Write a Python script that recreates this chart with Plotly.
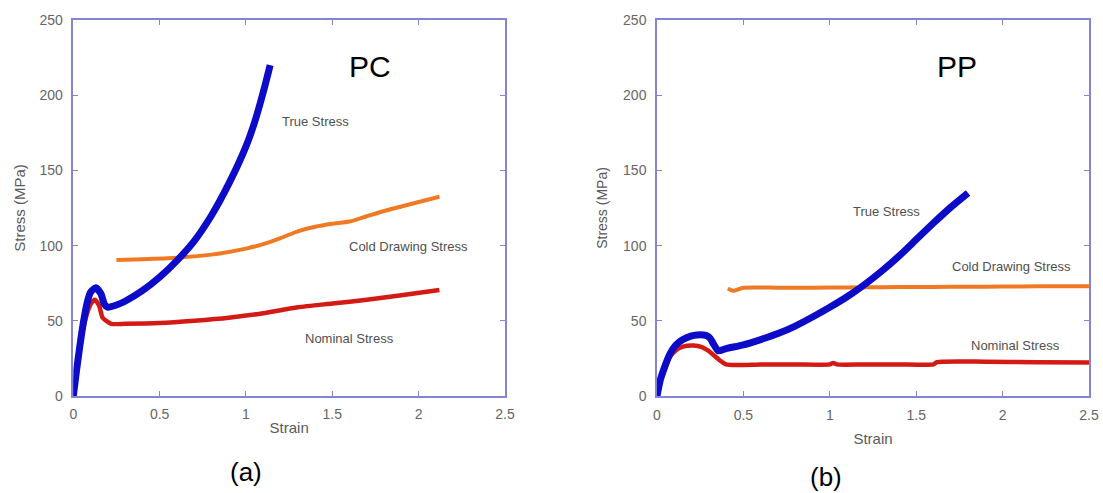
import plotly.graph_objects as go

# ---- PC (a) ----
pc_true_strain = [0, 0.02, 0.04, 0.06, 0.08, 0.10, 0.13, 0.16, 0.18, 0.20, 0.25, 0.30, 0.40, 0.50, 0.60, 0.70, 0.80, 0.90, 1.00, 1.05, 1.10, 1.14]
pc_true_stress = [0, 18, 35, 50, 62, 69, 72, 68, 61, 59, 60.5, 63, 70, 79, 90, 103, 120, 141, 166, 182, 202, 220]

pc_nom_strain = [0, 0.02, 0.04, 0.06, 0.08, 0.10, 0.125, 0.15, 0.17, 0.22, 0.30, 0.50, 0.70, 0.90, 1.10, 1.30, 1.50, 1.70, 1.90, 2.12]
pc_nom_stress = [0, 17, 33, 46, 55, 61, 64, 60, 52, 48, 48, 48.5, 50, 52, 55, 59, 61.5, 64, 67, 70.5]

pc_cold_strain = [0.25, 0.40, 0.60, 0.80, 1.00, 1.10, 1.20, 1.30, 1.40, 1.50, 1.60, 1.70, 1.80, 1.90, 2.00, 2.12]
pc_cold_stress = [90.5, 91, 92, 94, 98, 101, 105, 109.5, 112.5, 114.5, 116, 119.5, 123, 126, 129, 132.5]

# ---- PP (b) ----
pp_true_strain = [0, 0.02, 0.04, 0.075, 0.11, 0.15, 0.20, 0.23, 0.27, 0.29, 0.31, 0.33, 0.355, 0.40, 0.50, 0.60, 0.70, 0.80, 0.90, 1.00, 1.10, 1.20, 1.30, 1.40, 1.50, 1.60, 1.70, 1.80]
pp_true_stress = [0, 11, 18, 28, 34, 37.5, 40, 40.6, 40.6, 40, 38, 34, 30, 31.5, 34, 37.5, 41.5, 46.5, 52.5, 59, 66, 74, 83, 93, 104, 115, 125.5, 135]

pp_nom_strain = [0, 0.02, 0.04, 0.075, 0.11, 0.15, 0.21, 0.26, 0.29, 0.32, 0.35, 0.40, 0.60, 0.80, 1.00, 1.02, 1.04, 1.20, 1.40, 1.60, 1.62, 1.90, 2.20, 2.50]
pp_nom_stress = [0, 10, 16, 26, 30.5, 32.8, 33.5, 32.5, 30.6, 28, 25, 21, 21, 21, 21, 22, 21, 21, 21, 21, 22.5, 22.8, 22.5, 22.2]

pp_cold_strain = [0.41, 0.44, 0.50, 0.70, 0.90, 1.10, 1.30, 1.50, 1.70, 1.90, 2.10, 2.30, 2.50]
pp_cold_stress = [71.5, 70, 72, 72, 72, 72.2, 72.3, 72.5, 72.6, 72.7, 72.8, 73, 73]

x_ticks = [0, 0.5, 1, 1.5, 2, 2.5]
x_tick_text = ["0", "0.5", "1", "1.5", "2", "2.5"]
y_ticks = [0, 50, 100, 150, 200, 250]

BLUE = "#0c0cc8"
RED = "#d41a14"
ORANGE = "#f07a24"
FRAME = "#8484d4"
GRAY = "#5a5a5a"

fig = go.Figure()

def add(xs, ys, color, width, xa, ya):
    fig.add_trace(go.Scatter(x=xs, y=ys, mode="lines", line=dict(color=color, width=width, shape="spline", smoothing=0.6),
                             xaxis=xa, yaxis=ya, showlegend=False, hoverinfo="skip"))

add(pc_cold_strain, pc_cold_stress, ORANGE, 4, "x", "y")
add(pc_nom_strain, pc_nom_stress, RED, 4.5, "x", "y")
add(pc_true_strain, pc_true_stress, BLUE, 7, "x", "y")
add(pp_cold_strain, pp_cold_stress, ORANGE, 4, "x2", "y2")
add(pp_nom_strain, pp_nom_stress, RED, 4.5, "x2", "y2")
add(pp_true_strain, pp_true_stress, BLUE, 7, "x2", "y2")

W, H = 1103, 493
def px(v):
    return v / W
def py(v):
    return 1 - v / H

ax_common = dict(
    showgrid=False, zeroline=False, showline=True, linecolor=FRAME, linewidth=1.5,
    mirror="allticks", ticks="inside", ticklen=5, tickcolor=FRAME, tickwidth=1.2,
    tickfont=dict(family="Liberation Sans, Arial", size=14, color="#666666"),
    automargin=False,
)

fig.update_layout(
    width=W, height=H, margin=dict(l=0, r=0, t=0, b=0),
    paper_bgcolor="white", plot_bgcolor="white", template="none",
    xaxis=dict(domain=[px(73.3), px(505)], range=[0, 2.5], anchor="y", tickvals=x_ticks, ticktext=x_tick_text,
               title=dict(text="Strain", standoff=2, font=dict(family="Liberation Sans, Arial", size=15, color=GRAY)),
               ticklabelstandoff=4, **ax_common),
    yaxis=dict(domain=[py(396), py(20)], range=[0, 250], anchor="x", tickvals=y_ticks,
               title=dict(text="Stress (MPa)", standoff=10, font=dict(family="Liberation Sans, Arial", size=15, color=GRAY)),
               ticklabelstandoff=6, **ax_common),
    xaxis2=dict(domain=[px(657), px(1089)], range=[0, 2.5], anchor="y2", tickvals=x_ticks, ticktext=x_tick_text,
                title=dict(text="Strain", standoff=12, font=dict(family="Liberation Sans, Arial", size=15, color=GRAY)),
                ticklabelstandoff=5, **ax_common),
    yaxis2=dict(domain=[py(396), py(20)], range=[0, 250], anchor="x2", tickvals=y_ticks,
                title=dict(text="Stress (MPa)", standoff=12, font=dict(family="Liberation Sans, Arial", size=14, color=GRAY)),
                ticklabelstandoff=6, **ax_common),
)

lab_font = dict(family="Liberation Sans, Arial", size=13, color="#505050")
big_font = dict(family="Liberation Sans, Arial", size=30, color="black")
sub_font = dict(family="Liberation Sans, Arial", size=26, color="black")

annotations = [
    dict(text="PC", x=1.718, y=219.4, xref="x", yref="y", font=big_font),
    dict(text="True Stress", x=1.40, y=182.4, xref="x", yref="y", font=lab_font),
    dict(text="Cold Drawing Stress", x=1.94, y=99.3, xref="x", yref="y", font=lab_font),
    dict(text="Nominal Stress", x=1.60, y=38.4, xref="x", yref="y", font=lab_font),
    dict(text="PP", x=1.737, y=218.8, xref="x2", yref="y2", font=big_font),
    dict(text="True Stress", x=1.33, y=122.5, xref="x2", yref="y2", font=lab_font),
    dict(text="Cold Drawing Stress", x=2.054, y=86, xref="x2", yref="y2", font=lab_font),
    dict(text="Nominal Stress", x=2.073, y=33.9, xref="x2", yref="y2", font=lab_font),
    dict(text="(a)", x=px(246), y=py(472), xref="paper", yref="paper", font=sub_font),
    dict(text="(b)", x=px(826), y=py(477), xref="paper", yref="paper", font=sub_font),
]
for a in annotations:
    a.update(showarrow=False, xanchor="center", yanchor="middle")
fig.update_layout(annotations=annotations)

fig.write_html("out.html")
